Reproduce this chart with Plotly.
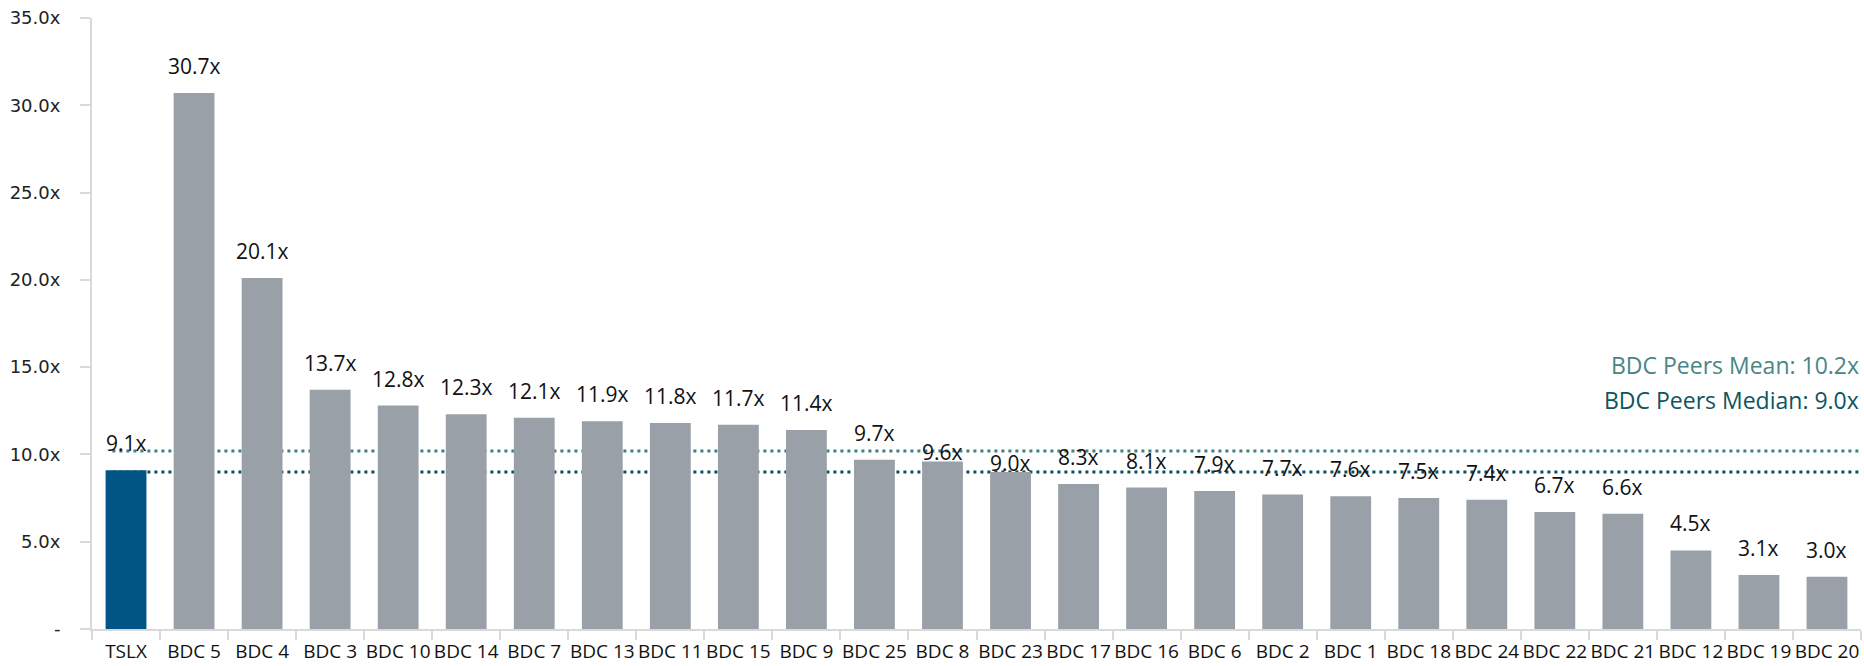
import plotly.graph_objects as go

# Price / NII multiples by company
companies = ["TSLX", "BDC 5", "BDC 4", "BDC 3", "BDC 10", "BDC 14", "BDC 7", "BDC 13",
             "BDC 11", "BDC 15", "BDC 9", "BDC 25", "BDC 8", "BDC 23", "BDC 17", "BDC 16",
             "BDC 6", "BDC 2", "BDC 1", "BDC 18", "BDC 24", "BDC 22", "BDC 21", "BDC 12",
             "BDC 19", "BDC 20"]
multiples = [9.1, 30.7, 20.1, 13.7, 12.8, 12.3, 12.1, 11.9, 11.8, 11.7, 11.4, 9.7, 9.6,
             9.0, 8.3, 8.1, 7.9, 7.7, 7.6, 7.5, 7.4, 6.7, 6.6, 4.5, 3.1, 3.0]
peers_mean = 10.2
peers_median = 9.0
y_tick_values = [0, 5, 10, 15, 20, 25, 30, 35]
y_tick_labels = ["-", "5.0x", "10.0x", "15.0x", "20.0x", "25.0x", "30.0x", "35.0x"]

# Styling
HIGHLIGHT = "#005584"
PEER = "#9aa0a8"
MEAN_COLOR = "#3f8080"
MEDIAN_COLOR = "#0b4f5a"
AXIS_GREY = "#d9d9d9"
LABEL_FONT = "Open Sans"

# Labels that sit lower to stay clear of the reference lines
label_nudge = {"BDC 8": -18, "BDC 23": -18}

bar_colors = [HIGHLIGHT if c == "TSLX" else PEER for c in companies]

fig = go.Figure()
fig.add_trace(go.Bar(
    x=companies,
    y=multiples,
    marker=dict(color=bar_colors, line=dict(width=0)),
    hoverinfo="x+y",
    showlegend=False,
))

annotations = []
for c, v in zip(companies, multiples):
    annotations.append(dict(
        x=c, y=v, xref="x", yref="y",
        text=f"{v:.1f}x",
        showarrow=False,
        yanchor="bottom",
        yshift=12 + label_nudge.get(c, 0),
        font=dict(family=LABEL_FONT, size=21, color="#111111"),
        borderpad=0,
    ))

annotations.append(dict(
    x=1.0, y=0.432, xref="paper", yref="paper",
    text=f"BDC Peers Mean: {peers_mean:.1f}x",
    showarrow=False, xanchor="right", yanchor="middle",
    font=dict(family=LABEL_FONT, size=23, color="#4a8686"),
))
annotations.append(dict(
    x=1.0, y=0.375, xref="paper", yref="paper",
    text=f"BDC Peers Median: {peers_median:.1f}x",
    showarrow=False, xanchor="right", yanchor="middle",
    font=dict(family=LABEL_FONT, size=23, color="#0d5560"),
))

# Dotted reference lines drawn behind the bars
shapes = [
    dict(type="line", xref="x", yref="y", x0=-0.2, x1=25.55, y0=peers_mean, y1=peers_mean,
         line=dict(color=MEAN_COLOR, width=3, dash="3px,4px"), layer="below"),
    dict(type="line", xref="x", yref="y", x0=-0.2, x1=25.55, y0=peers_median, y1=peers_median,
         line=dict(color=MEDIAN_COLOR, width=3, dash="3px,4px"), layer="below"),
]

fig.update_layout(
    width=1864,
    height=666,
    margin=dict(l=92, r=3, t=18, b=37),
    paper_bgcolor="white",
    plot_bgcolor="white",
    bargap=0.4,
    annotations=annotations,
    shapes=shapes,
    xaxis=dict(
        type="category",
        range=[-0.5, 25.5],
        automargin=False,
        showgrid=False,
        showline=True, linecolor=AXIS_GREY, linewidth=2,
        ticks="outside", tickson="boundaries", ticklen=9, tickcolor=AXIS_GREY, tickwidth=2,
        tickangle=0,
        tickfont=dict(family=LABEL_FONT, size=19, color="#111111"),
        ticklabelstandoff=4,
        zeroline=False,
    ),
    yaxis=dict(
        range=[0, 35],
        automargin=False,
        tickvals=y_tick_values,
        ticktext=y_tick_labels,
        showgrid=False,
        showline=True, linecolor=AXIS_GREY, linewidth=2,
        ticks="outside", ticklen=10, tickcolor=AXIS_GREY, tickwidth=2,
        tickfont=dict(family="DejaVu Sans", size=18, color="#222222"),
        ticklabelstandoff=16,
        zeroline=False,
    ),
)

fig.write_html("out.html")
